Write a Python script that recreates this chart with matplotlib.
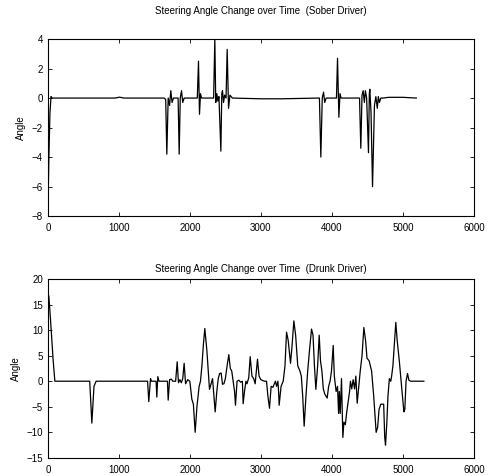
import matplotlib
matplotlib.use("Agg")
import matplotlib.pyplot as plt

plt.rcParams['font.family'] = ['Liberation Sans', 'DejaVu Sans']

# sober driver: (time, angle) breakpoints
sober_t = [0, 15, 30, 45, 60, 950, 980, 1010, 1040, 1070, 1640, 1660, 1676, 1695, 1715, 1732, 1750, 1770, 1835,
           1850, 1865, 1883, 1900, 1920, 2105, 2122, 2136, 2150, 2165, 2335, 2352, 2365, 2380, 2395, 2410,
           2437, 2450, 2460, 2475, 2490, 2510, 2526, 2545, 2565, 2600, 3000, 3300, 3825, 3845, 3865, 3883,
           3900, 3920, 4065, 4080, 4099, 4115, 4130, 4390, 4408, 4425, 4441, 4458, 4472, 4490, 4516, 4528,
           4535, 4552, 4573, 4600, 4620, 4640, 4655, 4670, 4690, 4720, 4800, 5000, 5190]
sober_a = [-8, -4, -1, 0.1, 0, 0, 0.03, 0.06, 0.03, 0, 0, -0.1, -3.8, 0, -0.5, 0.5, -0.3, 0, 0,
           -3.8, 0, 0.5, -0.3, 0, 0, 2.5, -1.1, 0.3, 0, 0, 4, -0.3, 0.3, -0.2, 0.1,
           -3.6, 0.3, 0.5, -0.3, 0.2, 0, 3.3, -0.7, 0.2, 0, -0.05, -0.05, 0, -4, 0, 0.4,
           -0.3, 0, 0, 2.7, -1.3, 0.3, 0, 0, -3.4, 0.2, 0.5, -0.3, 0.5, 0, -3.7, 0.3,
           0.6, -1, -6, -0.5, 0.1, -0.7, 0.1, -0.3, 0, 0, 0.05, 0.05, 0]

# drunk driver: (time, angle) breakpoints
drunk_t = [0, 14, 38, 75, 99, 590, 620, 650, 680, 1405, 1422, 1446, 1460, 1525, 1535, 1549, 1565, 1685,
           1695, 1715, 1740, 1760, 1800, 1822, 1840, 1860, 1880, 1900, 1920, 1940, 1970, 2000, 2028,
           2050, 2075, 2100, 2131, 2150, 2170, 2190, 2211, 2240, 2260, 2277, 2320, 2340, 2357, 2380,
           2400, 2420, 2441, 2460, 2480, 2500, 2525, 2549, 2570, 2590, 2610, 2630, 2643, 2665, 2690,
           2715, 2740, 2751, 2770, 2790, 2805, 2830, 2850, 2875, 2900, 2920, 2953, 2975, 3000, 3050,
           3080, 3100, 3122, 3145, 3170, 3190, 3205, 3222, 3240, 3250, 3258, 3285, 3315, 3340, 3362,
           3385, 3418, 3440, 3465, 3490, 3520, 3550, 3570, 3590, 3610, 3635, 3660, 3685, 3714, 3735,
           3755, 3775, 3800, 3822, 3840, 3860, 3880, 3900, 3934, 3955, 3975, 3995, 4019, 4035, 4060,
           4080, 4095, 4105, 4118, 4136, 4155, 4170, 4190, 4210, 4230, 4250, 4262, 4280, 4300, 4320,
           4338, 4357, 4380, 4400, 4425, 4451, 4475, 4495, 4525, 4560, 4590, 4610, 4624, 4645, 4665,
           4690, 4730, 4745, 4756, 4775, 4790, 4810, 4830, 4842, 4860, 4880, 4901, 4920, 4950, 4975,
           4995, 5015, 5028, 5045, 5066, 5085, 5110, 5296]
drunk_a = [16, 16.7, 12, 4.1, 0, 0, -8.2, -1, 0, 0, -4, 0.5, 0, 0, -3.1, 0.9, 0, 0,
           -3.7, 0.3, 0.4, 0, 0, 3.8, -0.3, 0.3, -0.3, 0.5, 3.5, -0.5, 0.3, 0, -3.5,
           -4.5, -10, -5, -1, 0, 3, 7, 10.3, 6, 2, -1.6, 0.5, -3, -6, -2,
           0.5, 1.5, 1.6, -0.6, -0.5, 0.5, 3, 5.2, 2.5, 2, 0, -2, -4.7, 0, 0.2,
           -0.2, 0, -4.4, -2, 0, -0.5, 0.7, 4.8, 1, 0.5, -0.5, 4.3, 1, 0.3, 0,
           0, -3, -5.3, -1, -1.2, -0.5, 0, -1, 0, -2, -4.7, -1, 0, 3, 9.6,
           8, 3.5, 7, 11.8, 9, 3, 2, 1, -3, -8.8, -3, 2, 6, 10.2, 9,
           3, -1.6, 3, 9, 4, 2, -1.5, -2.5, -3.3, -1, 0, 2, 7, 1, -2,
           -1, -6.3, -2, -6.3, 0.5, -11, -8, -8.5, -6, -4, -2, 0, -1.5, 0.3, -1.5,
           1, -4.3, -1, 2, 5, 10.5, 8, 4.5, 4, 2, -3, -7, -10, -9, -5.5,
           -4.5, -4.5, -11, -12.5, -8, -3, 0.5, 0, 1, 3, 7, 11.5, 8, 4, 0,
           -3, -6, -5.5, 0, 1.5, 0.2, 0, 0]

fig = plt.figure(figsize=(4.88, 4.76), dpi=100)
ax1 = fig.add_axes([0.098, 0.546, 0.873, 0.372])
ax2 = fig.add_axes([0.098, 0.038, 0.873, 0.376])

ax1.plot(sober_t, sober_a, color='black', linewidth=0.9)
ax1.set_xlim(0, 6000)
ax1.set_ylim(-8, 4)
ax1.set_yticks([-8, -6, -4, -2, 0, 2, 4])
ax1.set_title('Steering Angle Change over Time  (Sober Driver)', fontsize=7, pad=18)

ax2.plot(drunk_t, drunk_a, color='black', linewidth=0.9)
ax2.set_xlim(0, 6000)
ax2.set_ylim(-15, 20)
ax2.set_yticks([-15, -10, -5, 0, 5, 10, 15, 20])
ax2.set_title('Steering Angle Change over Time  (Drunk Driver)', fontsize=7, pad=5)

for ax in (ax1, ax2):
    ax.set_xticks([0, 1000, 2000, 3000, 4000, 5000, 6000])
    ax.set_ylabel('Angle', fontsize=7)
    ax.tick_params(direction='in', top=True, right=True, labelsize=7, length=3, width=0.6)
    ax.tick_params(axis='x', pad=5)
    for s in ax.spines.values():
        s.set_linewidth(0.8)

fig.savefig('out.png', dpi=100)
